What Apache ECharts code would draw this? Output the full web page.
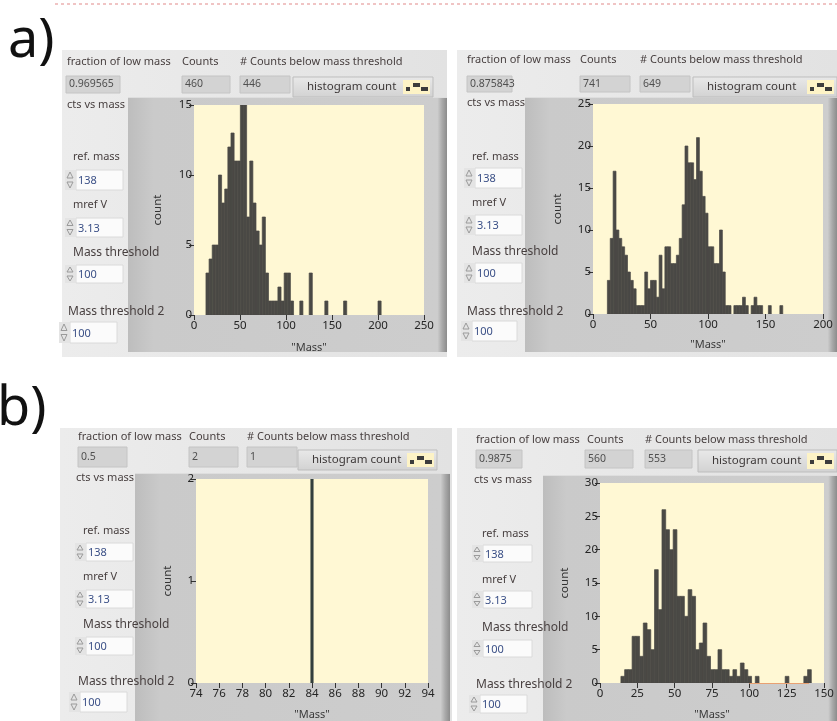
<!DOCTYPE html>
<html><head><meta charset="utf-8">
<script src="https://cdn.jsdelivr.net/npm/echarts@6/dist/echarts.min.js"></script>
<style>html,body{margin:0;padding:0;background:#fff}#c{width:837px;height:721px}</style>
</head><body><div id="c"></div>
<script>
// ---------- texts ----------
var panelLetters = ['a)', 'b)'];
var headerLabels = ['fraction of low mass', 'Counts', '# Counts below mass threshold'];
var ctrlLabels = ['ref. mass', 'mref V', 'Mass threshold', 'Mass threshold 2'];
var ctrlValues = ['138', '3.13', '100', '100'];
var fractionValues = ['0.969565', '0.875843', '0.5', '0.9875'];
var countValues = ['460', '741', '2', '560'];
var belowValues = ['446', '649', '1', '553'];
var buttonText = 'histogram count';
var ctsLabel = 'cts vs mass';
var xName = '"Mass"';
var yName = 'count';

// ---------- histogram data (bin left edge mass, count) ----------
var aLeftMass = [13, 16.4, 19.8, 23.2, 26.6, 30, 33.4, 36.8, 40.2, 43.6, 47, 50.4, 53.8, 57.2, 60.6, 64, 67.4, 70.8, 74.2, 77.6, 81, 84.4, 87.8, 91.2, 94.6, 98, 101.4, 104.8, 115, 125.2, 142.2, 162.6, 200];
var aLeftCount = [3, 4, 5, 5, 10, 8, 9, 12, 13, 11, 11, 15, 15, 7, 11, 8, 6, 5, 7, 3, 1, 1, 1, 2, 1, 3, 3, 1, 1, 3, 1, 1, 1];

var aRightMass = [12.5, 15, 17.5, 20, 22.5, 25, 27.5, 30, 32.5, 35, 37.5, 40, 42.5, 45, 47.5, 50, 52.5, 55, 57.5, 60, 62.5, 65, 67.5, 70, 72.5, 75, 77.5, 80, 82.5, 85, 87.5, 90, 92.5, 95, 97.5, 100, 102.5, 105, 107.5, 110, 112.5, 115, 117.5, 122.5, 125, 127.5, 130, 132.5, 137.5, 140, 142.5, 145, 152.5, 162.5];
var aRightCount = [4, 9, 17, 10, 9, 8, 7, 5, 4, 3, 1, 1, 1, 5, 3, 4, 4, 2, 7, 3, 8, 8, 6, 6, 7, 9, 13, 20, 18, 18, 16, 21, 17, 14, 12, 8, 8, 6, 6, 10, 5, 1, 1, 1, 1, 1, 2, 1, 1, 2, 1, 1, 1, 1];

var bLeftMass = [84];
var bLeftCount = [2];

var bRightMass = [14, 16.5, 19, 21.5, 24, 26.5, 29, 31.5, 34, 36.5, 39, 41.5, 44, 46.5, 49, 51.5, 54, 56.5, 59, 61.5, 64, 66.5, 69, 71.5, 74, 76.5, 79, 81.5, 84, 86.5, 89, 91.5, 94, 96.5, 99, 104, 124, 136.5, 139];
var bRightCount = [1, 2, 2, 7, 7, 4, 9, 8, 5, 17, 11, 26, 23, 20, 23, 13, 13, 10, 14, 13, 5, 6, 9, 4, 2, 2, 5, 2, 2, 1, 2, 1, 3, 2, 1, 1, 1, 1, 2];

// axis ranges [min, max, interval]
var aLeftX = [0, 250, 50], aLeftY = [0, 15, 5];
var aRightX = [0, 200, 50], aRightY = [0, 25, 5];
var bLeftX = [74, 94, 2], bLeftY = [0, 2, 1];
var bRightX = [0, 150, 25], bRightY = [0, 30, 5];

// ---------- layout (positions & styles) ----------
var FONT = 'Noto Sans';
var layouts = [
  { bg:[62,50,385,307], hdrY:62, hdrX:[67,182,240],
    boxes:[[66,76,54,17],[182,76,48,17],[240,76,50,17]], btn:[293,77,140,20], cts:[67,105],
    frame:[128,97,319,255], labels:[[73,157],[73,205],[73,253],[68,312]],
    inputs:[[76,170,47,20],[76,218,47,19],[76,265,47,18],[70,322,47,21]],
    grid:{left:194, top:105, width:230, height:210}, yGap:30, xGap:24, binW:3.4, align:0 },
  { bg:[457,50,380,307], hdrY:60, hdrX:[467,580,640],
    boxes:[[467,76,45,16],[580,76,50,16],[640,76,50,16]], btn:[693,77,144,20], cts:[467,103],
    frame:[525,97,312,255], labels:[[472,157],[472,203],[472,252],[467,312]],
    inputs:[[475,168,47,20],[475,215,47,20],[475,263,47,20],[472,321,45,20]],
    grid:{left:593, top:104, width:230, height:210}, yGap:29, xGap:22, binW:2.5, align:0 },
  { bg:[60,428,392,293], hdrY:437, hdrX:[78,189,247],
    boxes:[[78,447,49,20],[189,447,49,20],[247,447,50,20]], btn:[298,450,139,20], cts:[76,478],
    frame:[135,473,315,248], labels:[[83,531],[83,577],[83,625],[78,682]],
    inputs:[[86,543,47,18],[86,590,47,18],[86,637,47,18],[80,692,47,20]],
    grid:{left:196, top:479, width:232, height:205}, yGap:22, xGap:23, binW:0.2, align:0.5 },
  { bg:[457,428,380,293], hdrY:440, hdrX:[476,587,645],
    boxes:[[476,450,46,18],[585,450,48,18],[645,450,47,18]], btn:[698,450,139,22], cts:[474,480],
    frame:[543,475,294,246], labels:[[482,534],[482,580],[482,628],[476,685]],
    inputs:[[483,545,49,17],[483,591,49,17],[483,640,49,17],[480,695,47,18]],
    grid:{left:600, top:483, width:224, height:204}, yGap:29, xGap:23, binW:2.5, align:0 }
];

var hist = [
  {mass:aLeftMass, count:aLeftCount, x:aLeftX, y:aLeftY},
  {mass:aRightMass, count:aRightCount, x:aRightX, y:aRightY},
  {mass:bLeftMass, count:bLeftCount, x:bLeftX, y:bLeftY},
  {mass:bRightMass, count:bRightCount, x:bRightX, y:bRightY}
];

var LABEL_COLOR = '#473f3f';
var VALUE_COLOR = '#3a4f86';
var graphics = [];

function rect(x, y, w, h, fill, z, stroke) {
  return { type:'rect', shape:{x:x, y:y, width:w, height:h}, style:{fill:fill, stroke:stroke || null, lineWidth: stroke ? 1 : 0}, z:z, silent:true };
}
function txt(x, y, s, size, color, z, extra) {
  var st = {text:s, x:x, y:y, fill:color, font: (extra && extra.weight ? extra.weight + ' ' : '') + size + 'px "' + FONT + '"', verticalAlign:'middle', align:(extra && extra.align) || 'left'};
  return { type:'text', style:st, z:z, silent:true };
}

// faint dotted line at top
graphics.push({ type:'line', shape:{x1:55, y1:4, x2:837, y2:4}, style:{stroke:'#f0c4c4', lineWidth:2, lineDash:[3,3]}, z:-20, silent:true });
// panel letters
graphics.push(txt(8, 42, panelLetters[0], 54, '#111', 5));
graphics.push(txt(-3, 410, panelLetters[1], 54, '#111', 5));

layouts.forEach(function (L, i) {
  var b = L.bg;
  graphics.push({ type:'rect', shape:{x:b[0], y:b[1], width:b[2], height:b[3]},
    style:{fill:new echarts.graphic.LinearGradient(0,0,1,0,[{offset:0,color:'#ececec'},{offset:1,color:'#e2e2e2'}])}, z:-30, silent:true });
  var f = L.frame;
  graphics.push({ type:'rect', shape:{x:f[0], y:f[1], width:f[2], height:f[3]},
    style:{fill:new echarts.graphic.LinearGradient(0,0,1,0,[{offset:0,color:'#bdbdbd'},{offset:0.08,color:'#cacaca'},{offset:0.97,color:'#cdcdcd'},{offset:0.985,color:'#a9a9a9'},{offset:1,color:'#8c8c8c'}])}, z:-25, silent:true });
  graphics.push({ type:'line', shape:{x1:f[0], y1:f[1]+0.5, x2:f[0]+f[2], y2:f[1]+0.5}, style:{stroke:'#dedede', lineWidth:1}, z:-24, silent:true });
  for (var k = 0; k < 3; k++) {
    graphics.push(txt(L.hdrX[k], L.hdrY, headerLabels[k], 11, LABEL_COLOR, 5));
    var bx = L.boxes[k];
    graphics.push(rect(bx[0], bx[1], bx[2], bx[3], '#d3d3d3', -10, '#c4c4c4'));
  }
  graphics.push(txt(L.boxes[0][0] + 3, L.boxes[0][1] + L.boxes[0][3] / 2, fractionValues[i], 10.5, '#505050', 6));
  graphics.push(txt(L.boxes[1][0] + 3, L.boxes[1][1] + L.boxes[1][3] / 2, countValues[i], 10.5, '#505050', 6));
  graphics.push(txt(L.boxes[2][0] + 3, L.boxes[2][1] + L.boxes[2][3] / 2, belowValues[i], 10.5, '#505050', 6));
  var bt = L.btn;
  graphics.push({ type:'rect', shape:{x:bt[0], y:bt[1], width:bt[2], height:bt[3]},
    style:{fill:new echarts.graphic.LinearGradient(0,0,0,1,[{offset:0,color:'#e9e9e9'},{offset:1,color:'#d2d2d2'}]), stroke:'#bdbdbd', lineWidth:1}, z:-9, silent:true });
  graphics.push(txt(bt[0] + 14, bt[1] + bt[3] / 2, buttonText, 11.5, '#3d3838', 6));
  var ix = bt[0] + bt[2] - 30, iy = bt[1] + 3;
  graphics.push(rect(ix, iy, 27, bt[3] - 6, '#fdf3c6', -8));
  graphics.push(rect(ix + 3, iy + 7, 4, 4, '#3c3c3c', -7));
  graphics.push(rect(ix + 10, iy + 3, 7, 4, '#3c3c3c', -7));
  graphics.push(rect(ix + 18, iy + 7, 7, 4, '#3c3c3c', -7));
  graphics.push(txt(L.cts[0], L.cts[1], ctsLabel, 11, LABEL_COLOR, 5));
  for (var c = 0; c < 4; c++) {
    var lb = L.labels[c], inp = L.inputs[c];
    graphics.push(txt(lb[0], lb[1], ctrlLabels[c], c >= 2 ? 12 : 11, LABEL_COLOR, 5));
    graphics.push(rect(inp[0], inp[1], inp[2], inp[3], '#fbfbfb', -8, '#dadada'));
    graphics.push(txt(inp[0] + 2, inp[1] + inp[3] / 2 + 1, ctrlValues[c], 11, VALUE_COLOR, 6));
    var sx = inp[0] - 11, sy = inp[1];
    graphics.push(rect(sx, sy, 10, inp[3], '#e4e4e4', -8));
    graphics.push({ type:'polygon', shape:{points:[[sx+2, sy+inp[3]/2-2],[sx+8, sy+inp[3]/2-2],[sx+5, sy+2]]}, style:{fill:'none', stroke:'#9a9a9a', lineWidth:1}, z:-7, silent:true });
    graphics.push({ type:'polygon', shape:{points:[[sx+2, sy+inp[3]/2+2],[sx+8, sy+inp[3]/2+2],[sx+5, sy+inp[3]-2]]}, style:{fill:'none', stroke:'#9a9a9a', lineWidth:1}, z:-7, silent:true });
  }
});

// ---------- chart ----------
var grids = [], xAxes = [], yAxes = [], series = [];
var axisTxt = {color:'#252525', fontSize:11.5, fontFamily:FONT};

hist.forEach(function (H, i) {
  var L = layouts[i];
  grids.push({ left:L.grid.left, top:L.grid.top, width:L.grid.width, height:L.grid.height, show:true, backgroundColor:'#fff8d4', borderWidth:0, containLabel:false });
  xAxes.push({ type:'value', gridIndex:i, min:H.x[0], max:H.x[1], interval:H.x[2],
    name:xName, nameLocation:'middle', nameGap:L.xGap + 3, nameTextStyle:{color:'#3a3a3a', fontSize:11, fontFamily:FONT},
    axisLine:{show:false}, axisTick:{show:true, length:5, lineStyle:{color:'#333', width:1}},
    axisLabel:Object.assign({margin:5}, axisTxt), splitLine:{show:false} });
  yAxes.push({ type:'value', gridIndex:i, min:H.y[0], max:H.y[1], interval:H.y[2],
    name:yName, nameLocation:'middle', nameGap:L.yGap, nameTextStyle:{color:'#333', fontSize:11.5, fontFamily:FONT},
    axisLine:{show:false}, axisTick:{show:true, length:5, lineStyle:{color:'#333', width:1}},
    axisLabel:Object.assign({margin:2}, axisTxt), splitLine:{show:false} });
  var data = H.mass.map(function (m, j) { return [m, H.count[j]]; });
  var w = L.binW, al = L.align;
  var col = i === 2 ? '#34403f' : '#4a4945';
  var s = { type:'custom', xAxisIndex:i, yAxisIndex:i, clip:true, data:data, encode:{x:0, y:1},
    renderItem:function (params, api) {
      var m = api.value(0), cnt = api.value(1);
      var p0 = api.coord([m - al * w, cnt]);
      var p1 = api.coord([m - al * w + w, 0]);
      return { type:'rect', shape:{x:p0[0], y:p0[1], width:Math.max(1, p1[0] - p0[0]), height:p1[1] - p0[1]},
        style:{fill:col, stroke:col, lineWidth:0.7} };
    } };
  if (i === 3) {
    s.markLine = { silent:true, symbol:['none','none'], label:{show:false},
      lineStyle:{color:'#e8a173', width:1, type:'solid'},
      data:[[{coord:[100, 0]}, {coord:[140, 0]}]] };
  }
  series.push(s);
});

var chart = echarts.init(document.getElementById('c'), null, {renderer:'canvas'});
chart.setOption({
  backgroundColor:'#ffffff',
  animation:false,
  textStyle:{fontFamily:FONT},
  graphic:{elements:graphics},
  grid:grids, xAxis:xAxes, yAxis:yAxes, series:series
});
</script></body></html>
